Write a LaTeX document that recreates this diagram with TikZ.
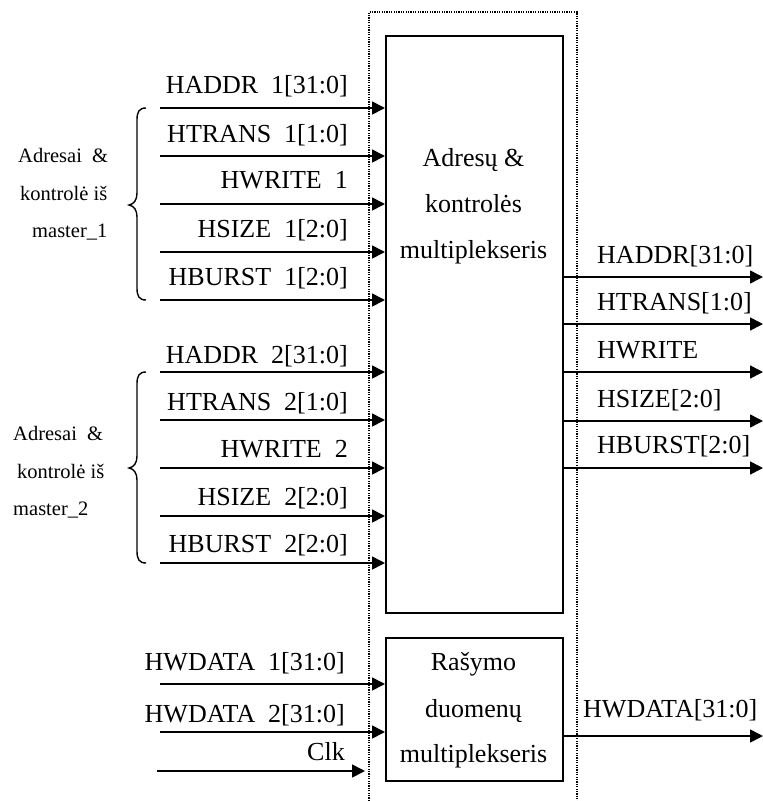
\documentclass[tikz,border=0pt]{standalone}
\usepackage{fontspec}
\setmainfont{Liberation Serif}
\usetikzlibrary{arrows.meta}
\begin{document}
\begin{tikzpicture}[x=1pt,y=-1pt,
  sig/.style={line width=1.6pt,-{Triangle[length=13pt,width=13pt]}},
  lbl/.style={inner sep=0pt,font=\fontsize{26}{30}\selectfont},
  grp/.style={inner sep=0pt,font=\fontsize{20.5}{24}\selectfont,anchor=base west},
  blk/.style={draw,line width=1.6pt,inner sep=0pt,anchor=north west},
  blktxt/.style={inner sep=0pt,font=\fontsize{26}{30}\selectfont,anchor=base},
  brc/.style={line width=1.4pt},
  frame/.style={line width=1.5pt,dash pattern=on 1.2pt off 1.2pt}]
\useasboundingbox (0,0) rectangle (763,801);

% multiplexer blocks
\node[blk,minimum width=177pt,minimum height=577pt] (amux) at (385,35) {};
\node[blk,minimum width=177pt,minimum height=143pt] (dmux) at (385,637) {};

% dotted boundary around both blocks
\draw[frame] (369,801) -- (369,12) -- (577,12) -- (577,801);

% block captions
\node[blktxt] (at1) at (473.5,166) {Adresų \&};
\node[blktxt] (at2) at (473.5,212) {kontrolės};
\node[blktxt] (at3) at (473.5,258) {multiplekseris};
\node[blktxt] (dt1) at (473.5,670) {Rašymo};
\node[blktxt] (dt2) at (473.5,717) {duomenų};
\node[blktxt] (dt3) at (473.5,762) {multiplekseris};

% address and control inputs
\foreach \n/\y/\b/\t in {
  a1/108/93/{HADDR\ \ 1[31:0]},
  a2/156/142/{HTRANS\ \ 1[1:0]},
  a3/204/188/{HWRITE\ \ 1},
  a4/252/237/{HSIZE\ \ 1[2:0]},
  a5/300/285/{HBURST\ \ 1[2:0]},
  b1/372/363/{HADDR\ \ 2[31:0]},
  b2/420/410/{HTRANS\ \ 2[1:0]},
  b3/468/457/{HWRITE\ \ 2},
  b4/516/505/{HSIZE\ \ 2[2:0]},
  b5/563/552/{HBURST\ \ 2[2:0]}} {
  \coordinate (in\n) at (160,\y);
  \node[lbl,anchor=base east] (lab\n) at (348,\b) {\t};
  \draw[sig] (in\n) -- (in\n -| amux.west);
}

% address and control outputs
\foreach \n/\y/\b/\t in {
  o1/277/263/{HADDR[31:0]},
  o2/324/310/{HTRANS[1:0]},
  o3/372/358/{HWRITE},
  o4/421/407/{HSIZE[2:0]},
  o5/468/453/{HBURST[2:0]}} {
  \coordinate (out\n) at (763,\y);
  \node[lbl,anchor=base west] (lab\n) at (597,\b) {\t};
  \draw[sig] (out\n -| amux.east) -- (out\n);
}

% write data inputs and output
\coordinate (inw1) at (160,684);
\coordinate (inw2) at (160,732);
\node[lbl,anchor=base east] (labw1) at (345,670) {HWDATA\ \ 1[31:0]};
\node[lbl,anchor=base east] (labw2) at (345,722) {HWDATA\ \ 2[31:0]};
\draw[sig] (inw1) -- (inw1 -| dmux.west);
\draw[sig] (inw2) -- (inw2 -| dmux.west);
\coordinate (outw) at (763,736);
\node[lbl,anchor=base west] (labw) at (583,717) {HWDATA[31:0]};
\draw[sig] (outw -| dmux.east) -- (outw);

% clock input
\coordinate (clks) at (157,771);
\coordinate (clke) at (365,771);
\node[lbl,anchor=base east] (labclk) at (345,760) {Clk};
\draw[sig] (clks) -- (clke);

% master group braces
\draw[brc] (146,108) .. controls (139,108) and (137,112) .. (137,120) -- (137,193)
  .. controls (137,200) and (134,204) .. (129,205)
  .. controls (134,206) and (137,210) .. (137,217) -- (137,288)
  .. controls (137,296) and (139,300) .. (146,300);
\draw[brc] (146,372) .. controls (139,372) and (137,376) .. (137,384) -- (137,456)
  .. controls (137,463) and (134,467) .. (129,468)
  .. controls (134,469) and (137,473) .. (137,480) -- (137,551)
  .. controls (137,559) and (139,563) .. (146,563);

% group captions
\node[grp] (g1a) at (18,162) {Adresai\ \ \&};
\node[grp] (g1b) at (20,200) {kontrolė iš};
\node[grp] (g1c) at (32,237) {master\_1};
\node[grp] (g2a) at (13,440) {Adresai\ \ \&};
\node[grp] (g2b) at (17,478) {kontrolė iš};
\node[grp] (g2c) at (13,515) {master\_2};
\end{tikzpicture}
\end{document}
